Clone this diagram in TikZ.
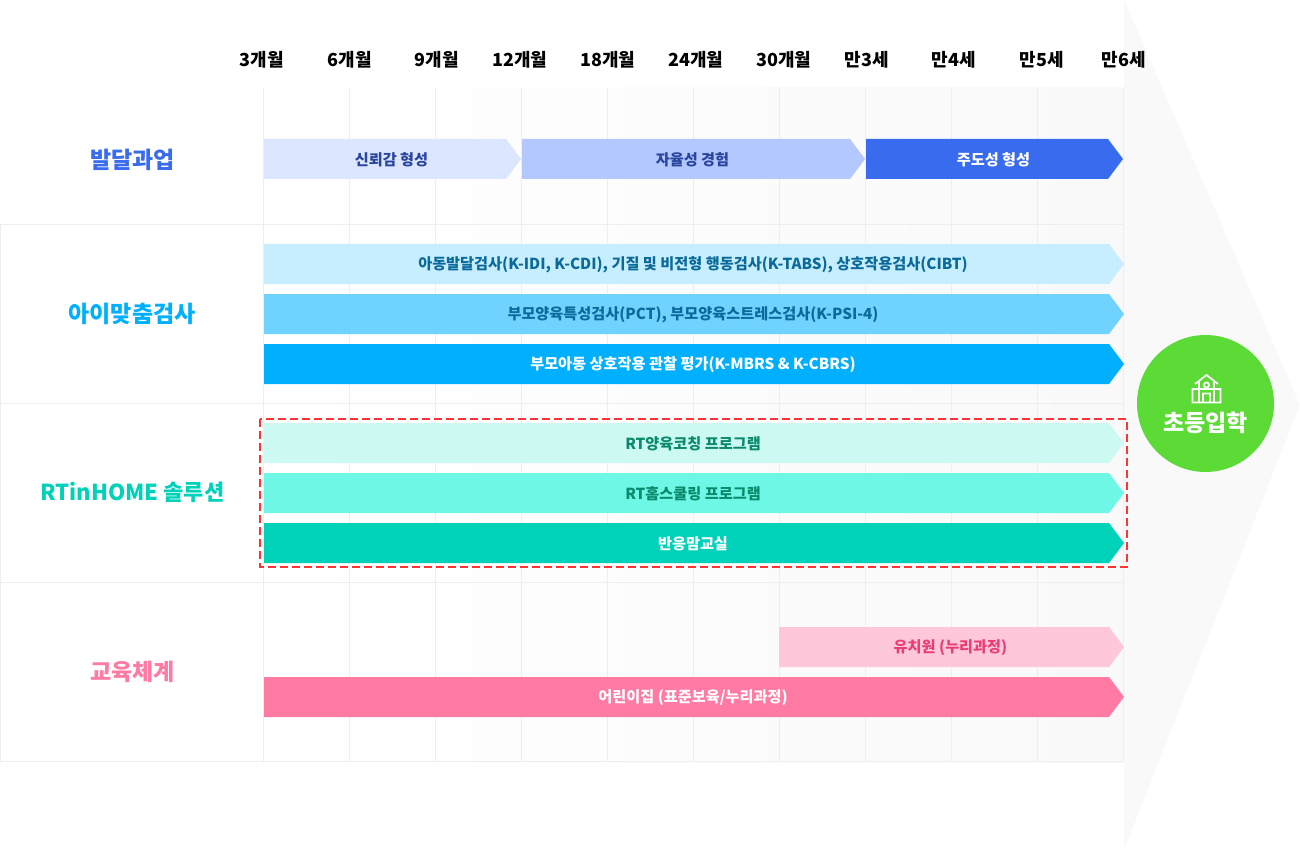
\documentclass[tikz,border=0pt]{standalone}
\usepackage{fontspec}
\setmainfont{Noto Sans CJK KR}
\definecolor{gridc}{HTML}{EEEEEE}
\definecolor{panelc}{HTML}{F9F9F9}
\definecolor{blueA}{HTML}{DCE6FF}
\definecolor{blueB}{HTML}{B3C8FF}
\definecolor{blueC}{HTML}{386BEE}
\definecolor{blueT}{HTML}{2A459E}
\definecolor{skyA}{HTML}{C7EEFF}
\definecolor{skyB}{HTML}{70D3FF}
\definecolor{skyC}{HTML}{00B0FF}
\definecolor{skyT}{HTML}{0B6A9A}
\definecolor{mintA}{HTML}{CCF9F2}
\definecolor{mintB}{HTML}{6FF7E5}
\definecolor{mintC}{HTML}{00D2BA}
\definecolor{mintT}{HTML}{0A8A6C}
\definecolor{pinkA}{HTML}{FFC7D9}
\definecolor{pinkB}{HTML}{FF7BA3}
\definecolor{pinkT}{HTML}{E83E75}
\definecolor{schoolc}{HTML}{5CDB37}
\definecolor{dashc}{HTML}{FF3333}
\tikzset{
  month/.style={font=\bfseries\fontsize{18}{20}\selectfont,text=black,inner sep=0pt},
  rowlabel/.style={font=\bfseries\fontsize{23}{26}\selectfont,inner sep=0pt},
  barlabel/.style={font=\bfseries\fontsize{15.2}{18}\selectfont,inner sep=0pt},
  gridline/.style={draw=gridc,line width=1pt},
}
\begin{document}
\begin{tikzpicture}[x=1pt,y=-1pt]
\useasboundingbox (0,0) rectangle (1300,850);
\fill[panelc] (1124,0) -- (1300,405) -- (1124,850) -- cycle;
\shade[left color=white,right color=panelc] (264,88) rectangle (1124,762);
\foreach \x in {263.5,349.5,435.5,521.5,607.5,693.5,779.5,865.5,951.5,1037.5,1123.5}
  \draw[gridline] (\x,88) -- (\x,762);
\foreach \y in {224.5,403.5,582.5,761.5}
  \draw[gridline] (0,\y) -- (1124,\y);
\draw[gridline] (0.5,224) -- (0.5,762);
\foreach \x/\name/\txt in {262/ma/3개월,350/mb/6개월,437/mc/9개월,520/md/12개월,608/me/18개월,696/mf/24개월,784/mg/30개월,867/mh/만3세,954/mi/만4세,1042/mj/만5세,1124/mk/만6세}
  \node[month] (\name) at (\x,60) {\txt};
\node[rowlabel,text=blueC] (devlabel) at (132.5,159.5) {발달과업};
\node[rowlabel,text=skyC] (testlabel) at (132,313.5) {아이맞춤검사};
\node[rowlabel,text=mintC,font=\bfseries\fontsize{22}{26}\selectfont] (homelabel) at (132.5,492) {RTinHOME 솔루션};
\node[rowlabel,text=pinkB] (edulabel) at (132.5,671.5) {교육체계};
\foreach \name/\xa/\xb/\y/\fillc/\textc/\txt in {
  trust/264/521/159/blueA/blueT/{신뢰감 형성},
  auto/522/865/159/blueB/blueT/{자율성 경험},
  lead/866/1123/159/blueC/white/{주도성 형성},
  idi/264/1124/264/skyA/skyT/{아동발달검사(K-IDI, K-CDI), 기질 및 비전형 행동검사(K-TABS), 상호작용검사(CIBT)},
  pct/264/1124/314/skyB/skyT/{부모양육특성검사(PCT), 부모양육스트레스검사(K-PSI-4)},
  mbrs/264/1124/364/skyC/white/{부모아동 상호작용 관찰 평가(K-MBRS \& K-CBRS)},
  coach/264/1124/443/mintA/mintT/{RT양육코칭 프로그램},
  school/264/1124/493/mintB/mintT/{RT홈스쿨링 프로그램},
  class/264/1124/543/mintC/white/{반응맘교실},
  kinder/779/1124/647/pinkA/pinkT/{유치원 (누리과정)},
  care/264/1124/697/pinkB/white/{어린이집 (표준보육/누리과정)}}
{
  \fill[\fillc] (\xa,\y-20) -- (\xb-15,\y-20) -- (\xb,\y) -- (\xb-15,\y+20) -- (\xa,\y+20) -- cycle;
  \node[barlabel,text=\textc] (\name) at ({(\xa+\xb)/2-1},\y+0.8) {\txt};
}
\draw[dashc,line width=2pt,dash pattern=on 8pt off 4pt] (260,419) rectangle (1127,567);
\node[circle,fill=schoolc,minimum size=137pt,inner sep=0pt] (goal) at (1205.5,403.5) {};
\node[rowlabel,text=white] (goallabel) at (1205.5,423) {초등입학};
\draw[white,line width=1.7pt]
  (1192.5,402.5) rectangle (1220.5,389)
  (1199,402.5) -- (1199,381) (1214,402.5) -- (1214,381)
  (1195,384) -- (1206.5,375) -- (1218,384)
  (1203,402.5) -- (1203,393.5) -- (1210,393.5) -- (1210,402.5)
  (1206.5,385) circle (2.6);
\end{tikzpicture}
\end{document}
